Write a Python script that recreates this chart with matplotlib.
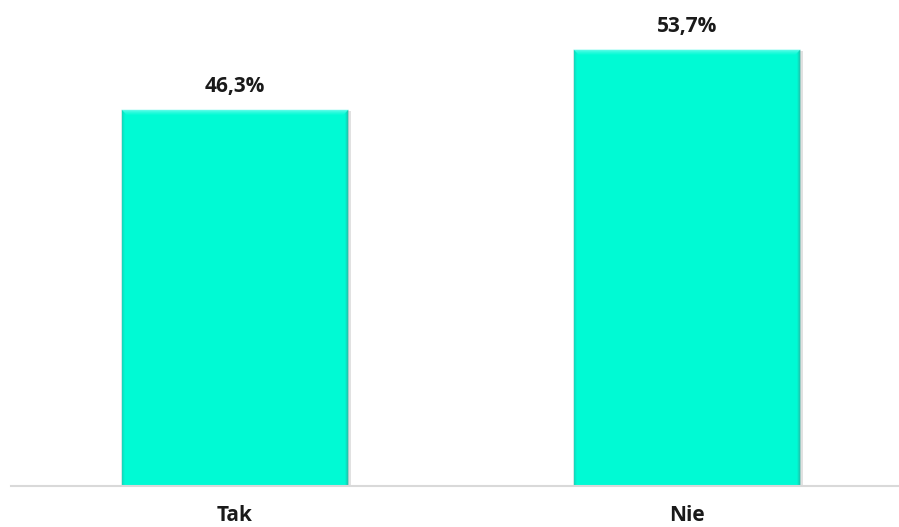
import numpy as np
import matplotlib
matplotlib.use("Agg")
import matplotlib.pyplot as plt
import matplotlib.patheffects as pe

categories = ["Tak", "Nie"]
values = [46.3, 53.7]
value_labels = ["46,3%", "53,7%"]

bar_color = "#00FAD4"
top_light = "#7DFDF0"
side_dark = "#2FA596"

fig = plt.figure(figsize=(8.99, 5.27), dpi=100)
ax = fig.add_axes([11 / 899, 41 / 527, 888 / 899, 486 / 527])
ax.set_xlim(-0.4956, 1.469)
ax.set_ylim(0, 59.8)

x = list(range(len(categories)))
bars = ax.bar(x, values, width=0.502, color=bar_color, zorder=2,
              path_effects=[pe.SimplePatchShadow(offset=(2, -1), shadow_rgbFace="#8a8a8a", alpha=0.25),
                            pe.Normal()])

inv = ax.transData.inverted()


def poly(pts, color, alpha=1.0):
    data_pts = inv.transform(np.array(pts, dtype=float))
    ax.fill(data_pts[:, 0], data_pts[:, 1], color=color, alpha=alpha,
            linewidth=0, zorder=3)


# bevel highlights on each bar: light top strip, darker side edges
for b in bars:
    x0, w, h = b.get_x(), b.get_width(), b.get_height()
    p0 = ax.transData.transform((x0, 0))
    p1 = ax.transData.transform((x0 + w, h))
    for i, a in enumerate([0.9, 0.6, 0.4, 0.25, 0.12]):
        poly([(p0[0] + i, p1[1] - i), (p1[0] - i, p1[1] - i),
              (p1[0] - i - 1, p1[1] - i - 1), (p0[0] + i + 1, p1[1] - i - 1)], top_light, a)
    for i, a in enumerate([0.5, 0.28, 0.12]):
        poly([(p0[0] + i, p0[1]), (p0[0] + i + 1, p0[1]),
              (p0[0] + i + 1, p1[1] - i - 1), (p0[0] + i, p1[1] - i)], side_dark, a)
    for i, a in enumerate([0.75, 0.45, 0.2]):
        poly([(p1[0] - i - 1, p0[1]), (p1[0] - i, p0[1]),
              (p1[0] - i, p1[1] - i), (p1[0] - i - 1, p1[1] - i - 1)], side_dark, a)

for xi, v, lab in zip(x, values, value_labels):
    ax.annotate(lab, (xi, v), xytext=(0, 23), textcoords="offset pixels",
                ha="center", va="center", fontsize=15, fontweight="bold",
                family="Open Sans", color="#1a1a1a")

ax.set_xticks(x)
ax.set_xticklabels(categories, fontsize=15, fontweight="bold", family="Open Sans", color="#1a1a1a")
ax.tick_params(axis="x", length=0, pad=14)
ax.set_yticks([])
for s in ["top", "right", "left"]:
    ax.spines[s].set_visible(False)
ax.spines["bottom"].set_color("#d9d9d9")
ax.spines["bottom"].set_linewidth(1.5)
ax.spines["bottom"].set_zorder(4)

fig.savefig("out.png", dpi=100)
